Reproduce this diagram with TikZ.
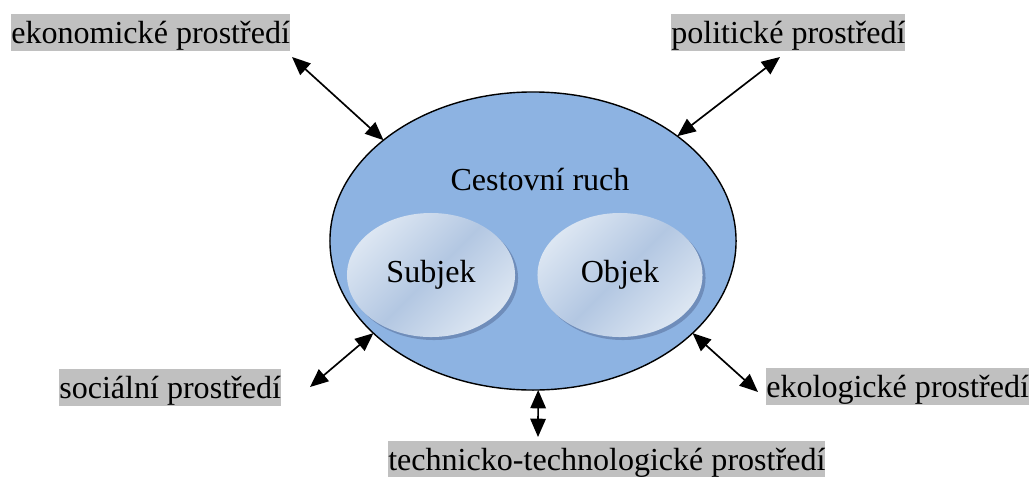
\documentclass[tikz,border=0pt]{standalone}
\usepackage{fontspec}
\setmainfont{Liberation Serif}
\usetikzlibrary{arrows.meta,shapes.geometric}
\definecolor{ruchblue}{HTML}{8DB3E2}
\definecolor{envgray}{HTML}{C0C0C0}
\definecolor{ovallight}{HTML}{DCE6F2}
\definecolor{ovaldark}{HTML}{B3C7E2}
\definecolor{ovalrim}{HTML}{6F8DBA}
\begin{document}
\begin{tikzpicture}[x=0.025cm, y=-0.025cm, font=\fontsize{22.8}{27}\selectfont,
  env/.style={fill=envgray, inner xsep=0pt, inner ysep=0pt, text height=21pt, text depth=5.3pt, anchor=north west},
  link/.style={{Triangle[length=13pt,width=11pt]}-{Triangle[length=13pt,width=11pt]}, line width=1.2pt},
  part/.style={ellipse, inner sep=0pt, minimum height=3.1cm, shading=axis, top color=ovallight, bottom color=ovallight, middle color=ovaldark, shading angle=45},
  rim/.style={ellipse, inner sep=0pt, minimum height=3.1cm, fill=ovalrim}]
\useasboundingbox (0,0) rectangle (1031,476);
% tourism as a whole
\node[ellipse, draw, line width=1pt, fill=ruchblue, inner sep=0pt, outer sep=0pt,
  minimum width=10.15cm, minimum height=7.45cm] (cr) at (533,241) {};
\node (cr-lbl) at (540,180) {Cestovní ruch};
% subject and object
\node[rim, minimum width=4.2cm] (subj-rim) at (434,278) {};
\node[rim, minimum width=4.125cm] (obj-rim) at (623,278) {};
\node[part, minimum width=4.2cm] (subj) at (431,275) {Subjek};
\node[part, minimum width=4.125cm] (obj) at (620,275) {Objek};
% environments
\node[env] (eko) at (11,14) {ekonomické prostředí};
\node[env] (pol) at (671,14) {politické prostředí};
\node[env] (soc) at (59,369) {sociální prostředí};
\node[env] (ekol) at (766,368) {ekologické prostředí};
\node[env] (tech) at (388,441) {technicko-technologické prostředí};
\coordinate (eko-a) at (292,57);
\coordinate (pol-a) at (780,57);
\coordinate (soc-a) at (310,387);
\coordinate (ekol-a) at (758,392);
\coordinate (tech-a) at (538,437);
\draw[link] (eko-a) -- (cr.146);
\draw[link] (pol-a) -- (cr.36);
\draw[link] (soc-a) -- (cr.210);
\draw[link] (ekol-a) -- (cr.330);
\draw[link] (tech-a) -- (cr.272);
\end{tikzpicture}
\end{document}
